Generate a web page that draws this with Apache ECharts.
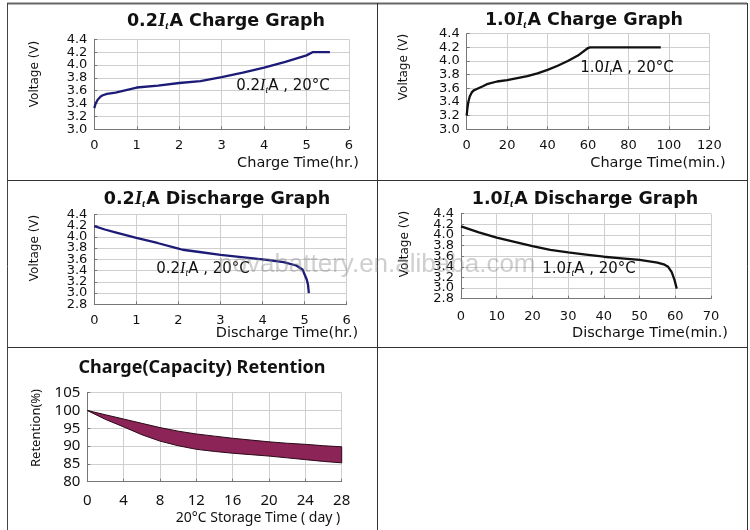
<!DOCTYPE html>
<html><head><meta charset="utf-8">
<script src="https://cdn.jsdelivr.net/npm/echarts@6/dist/echarts.min.js"></script>
<style>html,body{margin:0;padding:0;background:#fff}#c{width:750px;height:530px}</style>
</head><body><div id="c"></div>
<script>
// ---- data ----
const chg02Time = [0,0.03,0.08,0.15,0.2,0.3,0.5,0.75,1,1.5,2,2.5,3,3.5,4,4.5,5,5.14,5.55];
const chg02Volt = [3.33,3.40,3.46,3.51,3.53,3.55,3.57,3.61,3.65,3.68,3.72,3.75,3.81,3.88,3.96,4.05,4.15,4.2,4.2];
const chg10Time = [0,0.3,0.8,1.5,2.5,3.5,5,8,10,15,20,25,30,35,40,45,50,55,60,61,96];
const chg10Volt = [3.2,3.3,3.4,3.48,3.54,3.57,3.59,3.63,3.66,3.7,3.72,3.75,3.78,3.82,3.87,3.93,4.0,4.08,4.19,4.2,4.2];
const dis02Time = [0,0.25,0.5,1,1.5,2,2.1,2.5,3,3.5,4,4.5,4.8,4.95,5.0,5.05,5.08,5.1];
const dis02Volt = [4.19,4.13,4.08,3.98,3.89,3.79,3.77,3.73,3.68,3.64,3.6,3.55,3.49,3.42,3.33,3.24,3.15,3.0];
const dis10Time = [0,5,10,15,20,25,30,35,40,45,50,55,57,58,59,59.8,60.4];
const dis10Volt = [4.16,4.05,3.95,3.87,3.79,3.72,3.67,3.63,3.59,3.56,3.53,3.48,3.44,3.4,3.3,3.15,2.99];
const retDays  = [0,2,4,6,8,10,12,14,16,18,20,22,24,26,28];
const retUpper = [100,98.8,97.6,96.4,95.2,94.2,93.4,92.8,92.2,91.7,91.2,90.8,90.5,90.1,89.8];
const retLower = [100,97.5,95.4,93.2,91.4,90.1,89.1,88.5,88.0,87.6,87.2,86.7,86.2,85.7,85.3];

const titles = ['Charge Graph','Charge Graph','Discharge Graph','Discharge Graph'];
const rates = ['0.2','1.0','0.2','1.0'];
const xNames = ['Charge Time(hr.)','Charge Time(min.)','Discharge Time(hr.)','Discharge Time(min.)','20°C Storage Time ( day )'];
const retTitle = 'Charge(Capacity) Retention';
const annotTemp = '20°C';

// ---- helpers ----
const zip = (a,b)=>a.map((v,i)=>[v,b[i]]);
const F = 'DejaVu Sans';
const grids = [
  {left:94.3, top:39.3, width:254.7, height:90},
  {left:466.7, top:33.7, width:242.6, height:95.6},
  {left:94.3, top:214.3, width:252.4, height:90},
  {left:461, top:213.7, width:250, height:85},
  {left:87.3, top:392.7, width:254.4, height:89}
];
function xa(g,min,max,iv,fs,ff,margin){
  return {type:'value',gridIndex:g,min,max,interval:iv,
    axisLine:{lineStyle:{color:'#777'}},axisTick:{show:true,inside:true,length:3,lineStyle:{color:'#777'}},
    splitLine:{show:true,lineStyle:{color:'#cfcfcf'}},
    axisLabel:{color:'#111',fontSize:fs,fontFamily:ff,margin,showMinLabel:true,showMaxLabel:true,formatter:v=>String(Math.round(v*100)/100)}};
}
function ya(g,min,max,iv,fs,ff,dec,fmt,extra){
  return Object.assign({type:'value',gridIndex:g,position:'left',min,max,interval:iv,
    axisLine:{show:true,lineStyle:{color:'#777'}},axisTick:{show:true,inside:true,length:3,lineStyle:{color:'#777'}},
    splitLine:{show:true,lineStyle:{color:'#cfcfcf'}},
    axisLabel:{color:'#111',fontSize:fs,fontFamily:ff,margin:7,showMinLabel:true,showMaxLabel:true,formatter:fmt||(v=>v.toFixed(dec))}},extra||{});
}
// discharge axes: labels split over two overlaid axes so that none gets auto-hidden
const fmtEven = v=>{const r=Math.round(v*10);return r%4===0?(r/10).toFixed(1):'';};
const fmtOdd  = v=>{const r=Math.round(v*10);return r%4===2?(r/10).toFixed(1):'';};
function yb(g){
  const a=ya(g,2.8,4.4,0.2,13,F,1,fmtOdd);
  a.axisLine={show:false}; a.axisTick={show:false}; a.splitLine={show:false};
  a.axisLabel.showMinLabel=null; a.axisLabel.showMaxLabel=null;
  return a;
}
function line(i,data,color){
  return {type:'line',xAxisIndex:i,yAxisIndex:i,data,showSymbol:false,symbol:'none',
    lineStyle:{color,width:2.3},silent:true};
}
const titleRich = {
  n:{fontFamily:F,fontWeight:'bold',fontSize:17.5,fill:'#111',lineHeight:22},
  i:{fontFamily:'Liberation Serif',fontStyle:'italic',fontWeight:'bold',fontSize:19,fill:'#111',lineHeight:22},
  s:{fontFamily:'Liberation Serif',fontStyle:'italic',fontWeight:'bold',fontSize:11,fill:'#111',lineHeight:15,verticalAlign:'bottom',padding:[7,1,0,0]}
};
const annRich = {
  n:{fontFamily:F,fontSize:15,fill:'#111',lineHeight:18},
  i:{fontFamily:'Liberation Serif',fontStyle:'italic',fontSize:16,fill:'#111',lineHeight:18},
  s:{fontFamily:'Liberation Serif',fontStyle:'italic',fontSize:10,fill:'#111',lineHeight:12,verticalAlign:'bottom',padding:[6,0,0,0]}
};
function ttl(x,y,k){
  return {type:'text',x,y,z:10,style:{text:`{n|${rates[k]}}{i|I}{s|t}{n|A ${titles[k]}}`,rich:titleRich,align:'center',verticalAlign:'middle'}};
}
function ann(x,y,k){
  return {type:'text',x,y,z:10,style:{text:`{n|${rates[k]}}{i|I}{s|t}{n|A , ${annotTemp}}`,rich:annRich,align:'center',verticalAlign:'middle'}};
}
function txt(x,y,s,fs,ff,rot,weight){
  return {type:'text',x,y,rotation:rot||0,z:10,style:{text:s,fontSize:fs,fontFamily:ff,fontWeight:weight||'normal',fill:'#111',align:'center',verticalAlign:'middle'}};
}
function ln(x1,y1,x2,y2,c,w){return {type:'line',shape:{x1,y1,x2,y2},style:{stroke:c||'#333',lineWidth:w||1},z:20};}

const chart = echarts.init(document.getElementById('c'),null,{renderer:'canvas'});
chart.setOption({
  animation:false,
  backgroundColor:'#fff',
  grid:grids.map(g=>Object.assign({containLabel:false},g)),
  xAxis:[xa(0,0,6,1,13,F,10),xa(1,0,120,20,13,F,10),xa(2,0,6,1,13,F,10),xa(3,0,70,10,13,F,11),xa(4,0,28,4,15,'Noto Sans',12)],
  yAxis:[ya(0,3.0,4.4,0.2,13,F,1),ya(1,3.0,4.4,0.2,13,F,1),ya(2,2.8,4.4,0.2,13,F,1,fmtEven),ya(3,2.8,4.4,0.2,13,F,1,fmtEven),ya(4,80,105,5,15,'Noto Sans',0),
         yb(2), yb(3)],
  series:[
    line(0,zip(chg02Time,chg02Volt),'#1c1c78'),
    line(1,zip(chg10Time,chg10Volt),'#111'),
    line(2,zip(dis02Time,dis02Volt),'#1c1c78'),
    line(3,zip(dis10Time,dis10Volt),'#111'),
    {type:'custom',xAxisIndex:4,yAxisIndex:4,data:[[0,100]],silent:true,
      renderItem:function(params,api){
        const pts=[];
        for(let i=0;i<retDays.length;i++) pts.push(api.coord([retDays[i],retUpper[i]]));
        for(let i=retDays.length-1;i>=0;i--) pts.push(api.coord([retDays[i],retLower[i]]));
        return {type:'polygon',shape:{points:pts},style:{fill:'#8c2457',stroke:'#2a0a18',lineWidth:1}};
      }}
  ],
  graphic:[
    ln(7,3.5,747,3.5,'#666',2), ln(7.5,3,7.5,530,'#444',1), ln(377.5,3,377.5,530,'#333',1), ln(747.5,3,747.5,530,'#333',1),
    ln(7,180.5,747,180.5,'#333',1), ln(7,347.5,747,347.5,'#333',1),
    ttl(226,21,0), ttl(584,20,1), ttl(217,199,2), ttl(585,199,3),
    txt(202,368,retTitle,18,'Noto Sans',0,'bold'),
    txt(35,74,'Voltage (V)',12,F,Math.PI/2), txt(404,67,'Voltage (V)',12,F,Math.PI/2),
    txt(35,248,'Voltage (V)',12,F,Math.PI/2), txt(405,244,'Voltage (V)',12,F,Math.PI/2),
    txt(36,428,'Retention(%)',13,'Noto Sans',Math.PI/2),
    txt(298,163,xNames[0],14.5,F), txt(658,163,xNames[1],14.5,F), txt(287,333,xNames[2],14.5,F), txt(650,333,xNames[3],14.5,F),
    txt(258,518,xNames[4],14,'Noto Sans'),
    ann(283,86,0), ann(627,68,1), ann(203,269,2), ann(589,269,3),
    {type:'text',x:218,y:265,z:30,style:{text:'novabattery.en.alibaba.com',fontSize:26,fontFamily:'Liberation Sans',fill:'rgba(130,130,130,0.38)',align:'left',verticalAlign:'middle'}}
  ]
});
</script></body></html>
